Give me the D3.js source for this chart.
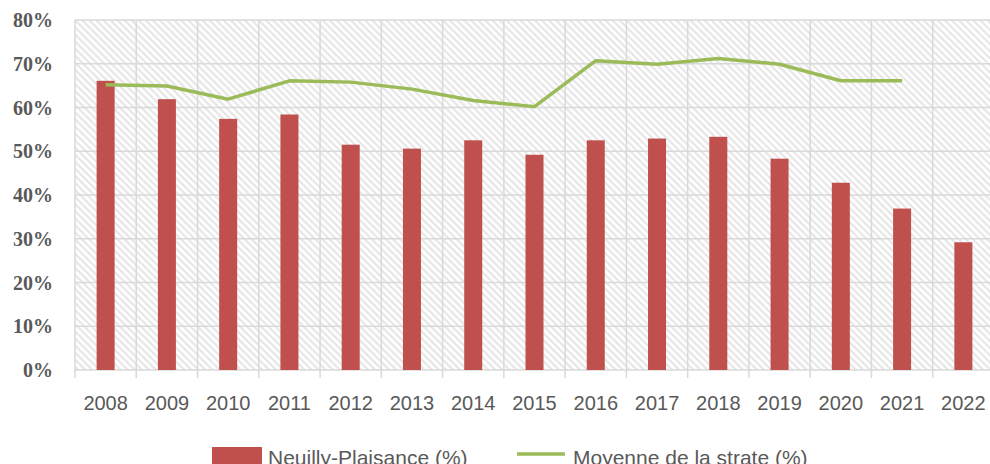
<!DOCTYPE html>
<html>
<head>
<meta charset="utf-8">
<script src="https://cdn.jsdelivr.net/npm/d3@7"></script>
<style>
  html, body { margin: 0; padding: 0; background: #fff; }
  svg { display: block; }
</style>
</head>
<body>
<svg id="chart" width="990" height="464"></svg>
<script>
const categories = ["2008","2009","2010","2011","2012","2013","2014","2015","2016","2017","2018","2019","2020","2021","2022"];
const communeValues = [66.1, 61.9, 57.4, 58.4, 51.5, 50.6, 52.5, 49.2, 52.5, 52.9, 53.3, 48.3, 42.8, 36.9, 29.2];
const strateValues = [65.2, 64.9, 61.9, 66.1, 65.8, 64.2, 61.6, 60.2, 70.7, 69.9, 71.2, 69.9, 66.1, 66.1, null];
const yTicks = [0, 10, 20, 30, 40, 50, 60, 70, 80];
const seriesNames = ["Neuilly-Plaisance (%)", "Moyenne de la strate (%)"];

(function () {
const svg = d3.select("#chart");
const pLeft = 75, pRight = 994, pTop = 20, pBottom = 370;

const x = d3.scaleBand().domain(categories).range([pLeft, pRight]).paddingInner(0).paddingOuter(0);
const y = d3.scaleLinear().domain([0, 80]).range([pBottom, pTop]);

const defs = svg.append("defs");
const pat = defs.append("pattern")
  .attr("id", "hatch")
  .attr("patternUnits", "userSpaceOnUse")
  .attr("width", 5).attr("height", 5)
  .attr("patternTransform", "rotate(45)");
pat.append("rect").attr("width", 5).attr("height", 5).attr("fill", "#ffffff");
pat.append("line").attr("x1", 0).attr("x2", 5).attr("y1", 1.25).attr("y2", 1.25)
  .attr("stroke", "#e4e4e4").attr("stroke-width", 2);

svg.append("rect")
  .attr("x", pLeft).attr("y", pTop)
  .attr("width", pRight - pLeft).attr("height", pBottom - pTop)
  .attr("fill", "url(#hatch)");

const gridColor = "#d9d9d9";
svg.append("g").selectAll("line").data(yTicks.filter(d => d > 0)).join("line")
  .attr("x1", pLeft).attr("x2", pRight)
  .attr("y1", d => y(d)).attr("y2", d => y(d))
  .attr("stroke", gridColor).attr("stroke-width", 1.5);

const boundaries = categories.map(c => x(c)).concat([x(categories[categories.length - 1]) + x.bandwidth()]);
svg.append("g").selectAll("line").data(boundaries).join("line")
  .attr("x1", d => d).attr("x2", d => d)
  .attr("y1", pTop).attr("y2", pBottom + 8)
  .attr("stroke", gridColor).attr("stroke-width", 1.5);

svg.append("line")
  .attr("x1", pLeft).attr("x2", pRight)
  .attr("y1", pBottom).attr("y2", pBottom)
  .attr("stroke", gridColor).attr("stroke-width", 1.5);

const barW = 18;
svg.append("g").selectAll("rect").data(categories).join("rect")
  .attr("x", (d) => x(d) + x.bandwidth() / 2 - barW / 2)
  .attr("width", barW)
  .attr("y", (d, i) => y(communeValues[i]))
  .attr("height", (d, i) => y(0) - y(communeValues[i]))
  .attr("fill", "#c0504d");

const linePts = categories.map((c, i) => [c, strateValues[i]]).filter(d => d[1] != null);
const lineGen = d3.line()
  .x(d => x(d[0]) + x.bandwidth() / 2)
  .y(d => y(d[1]));
svg.append("path")
  .datum(linePts)
  .attr("d", lineGen)
  .attr("fill", "none")
  .attr("stroke", "#9bbb59")
  .attr("stroke-width", 3.5)
  .attr("stroke-linejoin", "round");

svg.append("g").selectAll("text").data(yTicks).join("text")
  .attr("x", 53)
  .attr("y", d => y(d))
  .attr("dy", "0.35em")
  .attr("text-anchor", "end")
  .attr("font-family", "'Liberation Serif', 'Times New Roman', serif")
  .attr("font-weight", "bold")
  .attr("font-size", 20)
  .attr("fill", "#595959")
  .text(d => d + "%");

svg.append("g").selectAll("text").data(categories).join("text")
  .attr("x", d => x(d) + x.bandwidth() / 2)
  .attr("y", 410)
  .attr("text-anchor", "middle")
  .attr("font-family", "'Liberation Sans', Arial, sans-serif")
  .attr("font-size", 20)
  .attr("fill", "#595959")
  .text(d => d);

const lg = svg.append("g");
lg.append("rect").attr("x", 212).attr("y", 447).attr("width", 50).attr("height", 20).attr("fill", "#c0504d");
lg.append("text").attr("x", 268).attr("y", 465)
  .attr("font-family", "'Liberation Sans', Arial, sans-serif")
  .attr("font-size", 21).attr("fill", "#595959").text(seriesNames[0]);
lg.append("line").attr("x1", 517).attr("x2", 565).attr("y1", 454).attr("y2", 454)
  .attr("stroke", "#9bbb59").attr("stroke-width", 3.5);
lg.append("text").attr("x", 573).attr("y", 465)
  .attr("font-family", "'Liberation Sans', Arial, sans-serif")
  .attr("font-size", 21).attr("fill", "#595959").text(seriesNames[1]);
})();
</script>
</body>
</html>
